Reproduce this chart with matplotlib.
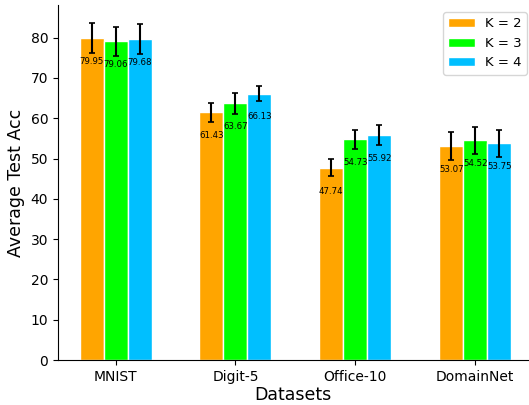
import matplotlib
matplotlib.use("Agg")
import matplotlib.pyplot as plt
import numpy as np

datasets = ["MNIST", "Digit-5", "Office-10", "DomainNet"]
series_labels = ["K = 2", "K = 3", "K = 4"]
acc_k2 = [79.95, 61.43, 47.74, 53.07]
acc_k3 = [79.06, 63.67, 54.73, 54.52]
acc_k4 = [79.68, 66.13, 55.92, 53.75]
err_k2 = [3.8, 2.4, 2.05, 3.4]
err_k3 = [3.7, 2.7, 2.45, 3.4]
err_k4 = [3.8, 1.9, 2.45, 3.4]
colors = ["#FFA500", "#00FF00", "#00BFFF"]

fig = plt.figure(figsize=(5.29, 4.05), dpi=100)
ax = fig.add_axes([58 / 529, 45 / 405, (528 - 58) / 529, (360 - 5) / 405])

x = np.arange(len(datasets))
width = 0.2
offsets = [-width, 0, width]
values = [acc_k2, acc_k3, acc_k4]
errors = [err_k2, err_k3, err_k4]

for off, vals, errs, col, lab in zip(offsets, values, errors, colors, series_labels):
    ax.bar(x + off, vals, width, yerr=errs, color=col, edgecolor="white",
           linewidth=1, label=lab, capsize=2.5,
           error_kw=dict(ecolor="black", elinewidth=1.5, capthick=1.2))
    for xi, v in zip(x + off, vals):
        ax.text(xi, v - 5.8, f"{v:.2f}", ha="center", va="center", fontsize=6.2)

ax.set_xlim(-0.48, 3.44)
ax.set_ylim(0, 88.1)
ax.set_xticks(x)
ax.set_xticklabels(datasets, fontsize=10)
ax.set_yticks(np.arange(0, 81, 10))
ax.tick_params(axis="y", labelsize=10)
ax.set_xlabel("Datasets", fontsize=12.5, labelpad=2)
ax.set_ylabel("Average Test Acc", fontsize=12.5)
ax.spines["top"].set_visible(False)
ax.spines["right"].set_visible(False)
ax.legend(loc="upper right", fontsize=9.5, borderaxespad=0,
          bbox_to_anchor=(527 / 529, (405 - 12) / 405),
          bbox_transform=fig.transFigure)

fig.savefig("out.png", dpi=100)
